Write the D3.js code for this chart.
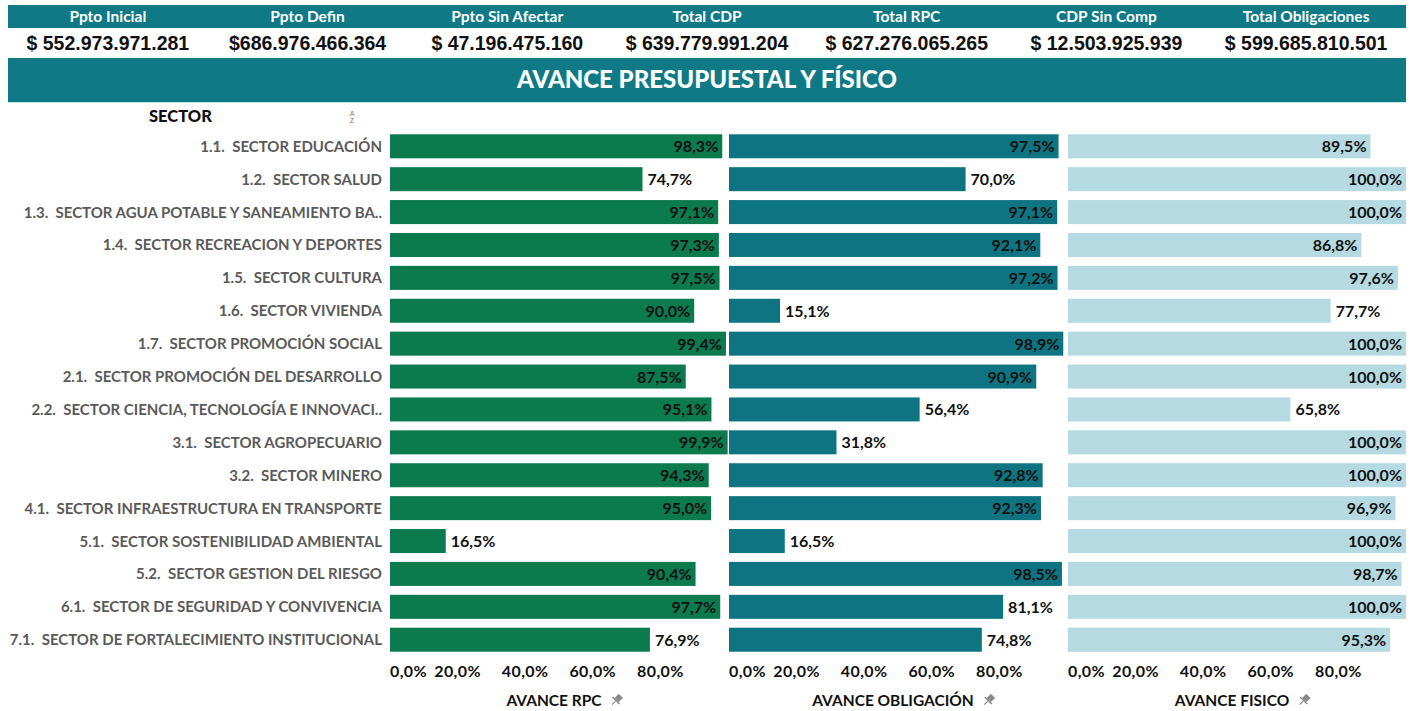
<!DOCTYPE html>
<meta charset="utf-8">
<style>
    body { margin: 0; background: #fff; }
    svg { display: block; }
    .hdr { font: bold 15.5px Lato, "Open Sans", sans-serif; fill: #fff; text-anchor: middle; }
    .val { font: bold 19.5px "Liberation Sans", Arial, sans-serif; fill: #111; text-anchor: middle; }
    .title { font: 900 24px Lato, sans-serif; fill: #fff; text-anchor: middle; }
    .cat { font: bold 15px Lato, sans-serif; fill: #5a5a5a; text-anchor: end; white-space: pre; }
    .lbl { font: bold 16px Lato, sans-serif; fill: #111; }
    .tick { font: bold 16px Lato, sans-serif; fill: #111; letter-spacing: 0.4px; }
    .axt { font: bold 15.5px Lato, sans-serif; fill: #111; text-anchor: middle; }
</style>
<svg width="1418" height="711"></svg>
<script src="https://cdn.jsdelivr.net/npm/d3@7"></script>
<script>

    var headers = ["Ppto Inicial", "Ppto Defin", "Ppto Sin Afectar", "Total CDP", "Total RPC", "CDP Sin Comp", "Total Obligaciones"];
    var headerValues = ["$ 552.973.971.281", "$686.976.466.364", "$ 47.196.475.160", "$ 639.779.991.204",
        "$ 627.276.065.265", "$ 12.503.925.939", "$ 599.685.810.501"];

    var sectors = [
        "1.1.  SECTOR EDUCACIÓN",
        "1.2.  SECTOR SALUD",
        "1.3.  SECTOR AGUA POTABLE Y SANEAMIENTO BA..",
        "1.4.  SECTOR RECREACION Y DEPORTES",
        "1.5.  SECTOR CULTURA",
        "1.6.  SECTOR VIVIENDA",
        "1.7.  SECTOR PROMOCIÓN SOCIAL",
        "2.1.  SECTOR PROMOCIÓN DEL DESARROLLO",
        "2.2.  SECTOR CIENCIA, TECNOLOGÍA E INNOVACI..",
        "3.1.  SECTOR AGROPECUARIO",
        "3.2.  SECTOR MINERO",
        "4.1.  SECTOR INFRAESTRUCTURA EN TRANSPORTE",
        "5.1.  SECTOR SOSTENIBILIDAD AMBIENTAL",
        "5.2.  SECTOR GESTION DEL RIESGO",
        "6.1.  SECTOR DE SEGURIDAD Y CONVIVENCIA",
        "7.1.  SECTOR DE FORTALECIMIENTO INSTITUCIONAL"
    ];

    var avanceRPC = [98.3, 74.7, 97.1, 97.3, 97.5, 90.0, 99.4, 87.5, 95.1, 99.9, 94.3, 95.0, 16.5, 90.4, 97.7, 76.9];
    var avanceObligacion = [97.5, 70.0, 97.1, 92.1, 97.2, 15.1, 98.9, 90.9, 56.4, 31.8, 92.8, 92.3, 16.5, 98.5, 81.1, 74.8];
    var avanceFisico = [89.5, 100, 100, 86.8, 97.6, 77.7, 100, 100, 65.8, 100, 100, 96.9, 100, 98.7, 100, 95.3];

    var ticks = [0, 20, 40, 60, 80];

    var panels = [
        {title: "AVANCE RPC", values: avanceRPC, color: "#0b7a4f", x0: 390},
        {title: "AVANCE OBLIGACIÓN", values: avanceObligacion, color: "#0f7482", x0: 729},
        {title: "AVANCE FISICO", values: avanceFisico, color: "#b5dae1", x0: 1068}
    ];

    var svg = d3.select("svg");
    var teal = "#0f7a85";

    var locale = d3.formatLocale({decimal: ",", thousands: ".", grouping: [3], currency: ["$", ""]});
    var pct = function(v) { return locale.format(".1f")(v) + "%"; };

    // header strip
    var hx = d3.scaleBand().domain(headers).range([8, 1406]);
    svg.append("rect").attr("x", 8).attr("y", 5).attr("width", 1398).attr("height", 23).attr("fill", teal);
    svg.selectAll(".hdr").data(headers).enter().append("text")
        .attr("class", "hdr")
        .attr("x", function(d) { return hx(d) + hx.bandwidth() / 2; })
        .attr("y", 22)
        .text(function(d) { return d; });
    svg.selectAll(".val").data(headerValues).enter().append("text")
        .attr("class", "val")
        .attr("x", function(d, i) { return hx(headers[i]) + hx.bandwidth() / 2; })
        .attr("y", 50)
        .text(function(d) { return d; });

    // title bar
    svg.append("rect").attr("x", 8).attr("y", 58).attr("width", 1398).attr("height", 44).attr("fill", teal);
    svg.append("line").attr("x1", 8).attr("x2", 1406).attr("y1", 102.5).attr("y2", 102.5)
        .attr("stroke", "#bfe6ea").attr("stroke-width", 1);
    svg.append("text").attr("class", "title").attr("x", 707).attr("y", 88).text("AVANCE PRESUPUESTAL Y FÍSICO");

    // sector header
    svg.append("text").attr("x", 149).attr("y", 122)
        .style("font", "900 16.5px Lato, sans-serif").attr("fill", "#111").text("SECTOR");
    svg.append("text").attr("x", 352).attr("y", 116).style("font", "7px sans-serif").attr("fill", "#777")
        .attr("text-anchor", "middle").text("A");
    svg.append("text").attr("x", 352).attr("y", 123).style("font", "7px sans-serif").attr("fill", "#777")
        .attr("text-anchor", "middle").text("Z");

    var y = d3.scaleBand().domain(sectors).range([130, 656]).paddingInner(0.27).paddingOuter(0.13);

    svg.selectAll(".cat").data(sectors).enter().append("text")
        .attr("class", "cat")
        .attr("x", 382)
        .attr("y", function(d) { return y(d) + y.bandwidth() / 2 + 5.5; })
        .text(function(d) { return d; });

    panels.forEach(function(p) {
        var x = d3.scaleLinear().domain([0, 100]).range([p.x0, p.x0 + 338]);
        var g = svg.append("g");

        g.selectAll("rect").data(p.values).enter().append("rect")
            .attr("x", x(0))
            .attr("y", function(d, i) { return y(sectors[i]); })
            .attr("width", function(d) { return x(d) - x(0); })
            .attr("height", y.bandwidth())
            .attr("fill", p.color);

        g.selectAll("text.lbl").data(p.values).enter().append("text")
            .attr("class", "lbl")
            .attr("x", function(d) { return x(d) + 52 > x(100) ? x(d) - 4 : x(d) + 5; })
            .attr("y", function(d, i) { return y(sectors[i]) + y.bandwidth() / 2 + 6; })
            .attr("text-anchor", function(d) { return x(d) + 52 > x(100) ? "end" : "start"; })
            .text(function(d) { return pct(d); });

        g.selectAll("text.tick").data(ticks).enter().append("text")
            .attr("class", "tick")
            .attr("x", function(d) { return d === 0 ? x(0) : x(d); })
            .attr("y", 677)
            .attr("text-anchor", function(d) { return d === 0 ? "start" : "middle"; })
            .text(function(d) { return pct(d); });

        var cx = p.x0 + 169;
        var t = g.append("text").attr("class", "axt").attr("x", cx - 5).attr("y", 706).text(p.title);
        var w = t.node().getComputedTextLength();
        // pin icon
        var pin = g.append("g").attr("transform", "translate(" + (cx - 5 + w / 2 + 15) + ",700) rotate(45)")
            .attr("fill", "#8a8a8a");
        pin.append("rect").attr("x", -3).attr("y", -6).attr("width", 6).attr("height", 6);
        pin.append("rect").attr("x", -5).attr("y", 0).attr("width", 10).attr("height", 1.5);
        pin.append("rect").attr("x", -0.6).attr("y", 1.5).attr("width", 1.2).attr("height", 5);
    });
</script>
